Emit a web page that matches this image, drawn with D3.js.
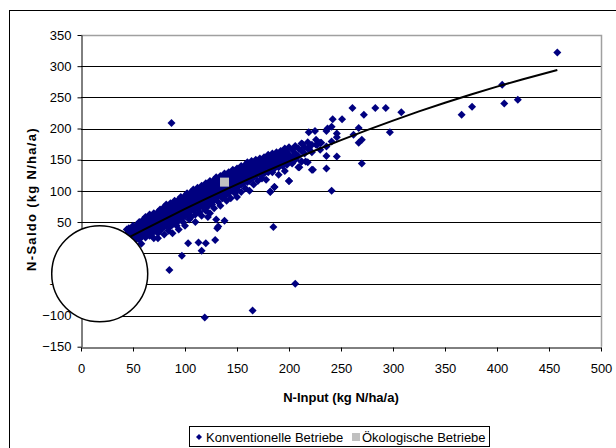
<!DOCTYPE html>
<html><head><meta charset="utf-8">
<script src="https://cdn.jsdelivr.net/npm/d3@7"></script>
<style>
body{margin:0;background:#fff}
text{font-family:"Liberation Sans",Arial,sans-serif}
</style>
</head><body>
<svg id="chart" width="616" height="448"></svg>
<script>
const xTicks = [0,50,100,150,200,250,300,350,400,450,500];
const yTicks = [-150,-100,-50,0,50,100,150,200,250,300,350];
const xTitle = "N-Input (kg N/ha/a)";
const yTitle = "N-Saldo (kg N/ha/a)";
const seriesNames = ["Konventionelle Betriebe","Ökologische Betriebe"];

// Konventionelle Betriebe: [N-Input, N-Saldo]
const konventionell = [
[44,38],[44,30],[46,34],[46,26],[46,40],[48,29],[48,36],[50,44],[50,33],[50,24],
[52,38],[52,30],[52,20],[54,46],[54,35],[54,28],[56,50],[56,41],[56,32],[56,22],
[58,44],[58,37],[58,26],[60,54],[60,47],[60,38],[60,30],[62,58],[62,43],[62,35],[62,25],
[64,50],[64,41],[64,33],[66,62],[66,55],[66,46],[66,38],[66,28],[68,57],[68,48],[68,40],[68,31],
[70,64],[70,52],[70,44],[70,36],[70,24],[72,60],[72,55],[72,47],[72,38],
[74,66],[74,58],[74,50],[74,42],[74,32],[76,70],[76,61],[76,53],[76,45],[76,36],
[78,67],[78,57],[78,49],[78,40],[80,74],[80,65],[80,57],[80,50],[80,42],[80,30],
[82,78],[82,70],[82,60],[82,52],[82,44],[84,72],[84,64],[84,55],[84,47],[84,36],
[86,80],[86,68],[86,60],[86,51],[86,43],[88,76],[88,70],[88,62],[88,54],[88,46],[88,32],
[90,84],[90,74],[90,66],[90,58],[90,50],[92,80],[92,72],[92,63],[92,55],[92,44],
[94,86],[94,77],[94,68],[94,60],[94,52],[94,38],[96,90],[96,82],[96,73],[96,65],[96,56],
[98,86],[98,78],[98,70],[98,61],[98,50],[100,92],[100,84],[100,76],[100,68],[100,59],[100,44],
[102,96],[102,88],[102,80],[102,71],[102,62],[104,90],[104,83],[104,74],[104,66],[104,54],
[106,98],[106,92],[106,85],[106,77],[106,68],[106,58],[108,102],[108,95],[108,87],[108,79],[108,70],
[110,98],[110,90],[110,82],[110,73],[110,62],[110,50],[112,105],[112,96],[112,88],[112,80],[112,71],
[114,100],[114,93],[114,85],[114,76],[114,66],[116,108],[116,101],[116,94],[116,86],[116,78],[116,60],
[118,104],[118,97],[118,89],[118,81],[118,72],[120,112],[120,104],[120,96],[120,88],[120,80],[120,68],
[122,108],[122,100],[122,92],[122,84],[122,75],[124,116],[124,106],[124,98],[124,90],[124,82],[124,64],
[126,112],[126,104],[126,95],[126,87],[126,78],[128,118],[128,110],[128,102],[128,94],[128,85],[128,72],
[130,122],[130,114],[130,106],[130,98],[130,90],[132,116],[132,108],[132,100],[132,92],[132,82],
[134,124],[134,118],[134,110],[134,102],[134,94],[134,76],[136,120],[136,113],[136,105],[136,97],[136,88],
[138,128],[138,122],[138,108],[138,100],[138,92],[140,126],[140,118],[140,110],[140,102],[140,94],[140,84],
[142,130],[142,122],[142,114],[142,106],[142,96],[144,126],[144,118],[144,110],[144,100],[144,88],
[146,134],[146,128],[146,120],[146,112],[146,104],[148,130],[148,122],[148,115],[148,107],[148,96],
[150,136],[150,128],[150,120],[150,112],[150,102],[150,90],[152,132],[152,124],[152,117],[152,108],
[154,140],[154,134],[154,126],[154,118],[154,110],[154,98],[156,136],[156,128],[156,120],[156,112],
[158,142],[158,134],[158,126],[158,118],[158,104],[160,146],[160,138],[160,130],[160,122],[160,114],
[162,140],[162,132],[162,124],[162,116],[162,100],[164,148],[164,136],[164,128],[164,120],
[166,144],[166,138],[166,130],[166,122],[166,110],[168,150],[168,140],[168,132],[168,124],
[170,146],[170,136],[170,128],[170,116],[172,152],[172,142],[172,134],[172,126],
[174,148],[174,140],[174,130],[174,120],[176,154],[176,144],[176,136],[176,128],
[178,150],[178,140],[178,132],[178,118],[180,158],[180,148],[180,138],[180,130],
[182,152],[182,144],[182,134],[182,98],[184,160],[184,150],[184,140],[184,130],
[186,156],[186,146],[186,136],[186,106],[188,162],[188,152],[188,142],
[190,158],[190,148],[190,138],[190,126],[192,164],[192,154],[192,144],
[194,160],[194,150],[194,140],[196,168],[196,156],[196,146],[196,132],
[198,162],[198,152],[198,142],[200,170],[200,158],[200,148],[200,116],
[203,166],[203,154],[203,144],[206,172],[206,160],[206,150],[209,168],[209,156],[209,138],
[212,176],[212,164],[212,147],[215,170],[215,160],[218,178],[218,168],[218,146],
[222,174],[222,162],[222,134],[226,182],[226,174],[230,177],[230,166],
[87,209],[458,322],[405,270],[407,240],[420,246],[366,222],[376,235],[308,226],[297,194],
[293,233],[283,233],[272,222],[261,233],[267,201],[262,190],[270,182],[267,177],[270,144],
[251,215],[242,215],[241,203],[237,200],[236,196],[246,192],[246,186],[241,179],[236,171],
[236,156],[246,155],[236,136],[241,100],[225,196],[219,194],[213,175],[227,174],[231,177],
[219,168],[223,134],[216,147],[212,147],[200,116],[186,106],[182,99],[210,138],
[185,42],[206,-49],[165,-92],[119,-103],[85,-27],[97,-4],[116,4],[120,16],[113,17],[103,16],
[129,21],[131,40],[132,43],[138,52],[130,54],[122,58],[58,15],[74,24]
];
const oekologisch = [[138,114]];

// trendline
const trendInput = [47,60,80,100,120,140,160,180,200,225,250,275,300,325,350,375,400,425,458];
const trendSaldo = [26,37.3,54.4,71,87.1,102.8,118.1,132.9,147.3,164.7,181.4,197.4,212.7,227.4,241.3,254.6,267.2,279.1,293.8];

// white circle annotation (data coords) and radius in px
const circleCenter = [18,-33];
const circleRadius = 48;

const svg = d3.select("#chart");
const x = d3.scaleLinear().domain([0,500]).range([81,601]);
const y = d3.scaleLinear().domain([-150,350]).range([346.7,35]);

// outer frame
svg.append("rect").attr("x",9.5).attr("y",10.5).attr("width",700).attr("height",500)
  .attr("fill","none").attr("stroke","#000").attr("stroke-width",1);

// gridlines
svg.append("g").selectAll("line").data(yTicks.filter(v=>v>-150 && v<350)).join("line")
  .attr("x1",x(0)).attr("x2",x(500))
  .attr("y1",d=>Math.round(y(d))+0.5).attr("y2",d=>Math.round(y(d))+0.5)
  .attr("stroke","#000").attr("stroke-width",1);

// plot area top/right border (gray)
svg.append("path")
  .attr("d",`M${x(0)},${Math.round(y(350))+0.5}H${x(500)+0.5}V${y(-150)}`)
  .attr("fill","none").attr("stroke","#a0a0a0").attr("stroke-width",1.5);

// axes
const gx = svg.append("g").attr("transform",`translate(0,${Math.round(y(-150))+0.5})`)
  .call(d3.axisBottom(x).tickValues(xTicks).tickSize(4).tickPadding(12).tickSizeOuter(0));
const gy = svg.append("g").attr("transform",`translate(${x(0)+0.5},0)`)
  .call(d3.axisLeft(y).tickValues(yTicks).tickSize(4).tickPadding(6).tickSizeOuter(0));
[gx,gy].forEach(g=>{
  g.select(".domain").attr("stroke","#000");
  g.selectAll(".tick line").attr("stroke","#000");
  g.selectAll("text").attr("font-size",13).attr("fill","#000")
   .style("font-family","'Liberation Sans',Arial,sans-serif");
});

// points
const diamond = "M0,-4L4,0L0,4L-4,0Z";
svg.append("g").selectAll("path").data(konventionell).join("path")
  .attr("d",diamond).attr("transform",d=>`translate(${x(d[0])},${y(d[1])})`)
  .attr("fill","#000080");

// trend line
svg.append("path").datum(trendInput.map((v,i)=>[v,trendSaldo[i]]))
  .attr("d",d3.line().x(d=>x(d[0])).y(d=>y(d[1])))
  .attr("fill","none").attr("stroke","#000").attr("stroke-width",2);

// Ökologische
svg.append("g").selectAll("rect").data(oekologisch).join("rect")
  .attr("x",d=>x(d[0])-4.5).attr("y",d=>y(d[1])-4.5).attr("width",9).attr("height",9)
  .attr("fill","#c0c0c0");

// circle annotation
svg.append("circle").attr("cx",x(circleCenter[0])).attr("cy",y(circleCenter[1])).attr("r",circleRadius)
  .attr("fill","#fff").attr("stroke","#000").attr("stroke-width",1.5);

// axis titles
svg.append("text").attr("x",341).attr("y",401.5).attr("text-anchor","middle")
  .attr("font-size",13).attr("font-weight","bold").text(xTitle);
svg.append("text").attr("transform","translate(36,199) rotate(-90)").attr("text-anchor","middle")
  .attr("font-size",13).attr("font-weight","bold").attr("letter-spacing",1.3).text(yTitle);

// legend
const lg = svg.append("g");
lg.append("rect").attr("x",189.5).attr("y",426.5).attr("width",300).attr("height",20)
  .attr("fill","#fff").attr("stroke","#000").attr("stroke-width",1);
lg.append("path").attr("d","M0,-3L3,0L0,3L-3,0Z").attr("transform","translate(199,437)").attr("fill","#000080");
lg.append("text").attr("x",206).attr("y",441.5).attr("font-size",13).text(seriesNames[0]);
lg.append("rect").attr("x",352).attr("y",433).attr("width",8).attr("height",8).attr("fill","#c0c0c0");
lg.append("text").attr("x",362).attr("y",441.5).attr("font-size",13).text(seriesNames[1]);
</script>
</body></html>
